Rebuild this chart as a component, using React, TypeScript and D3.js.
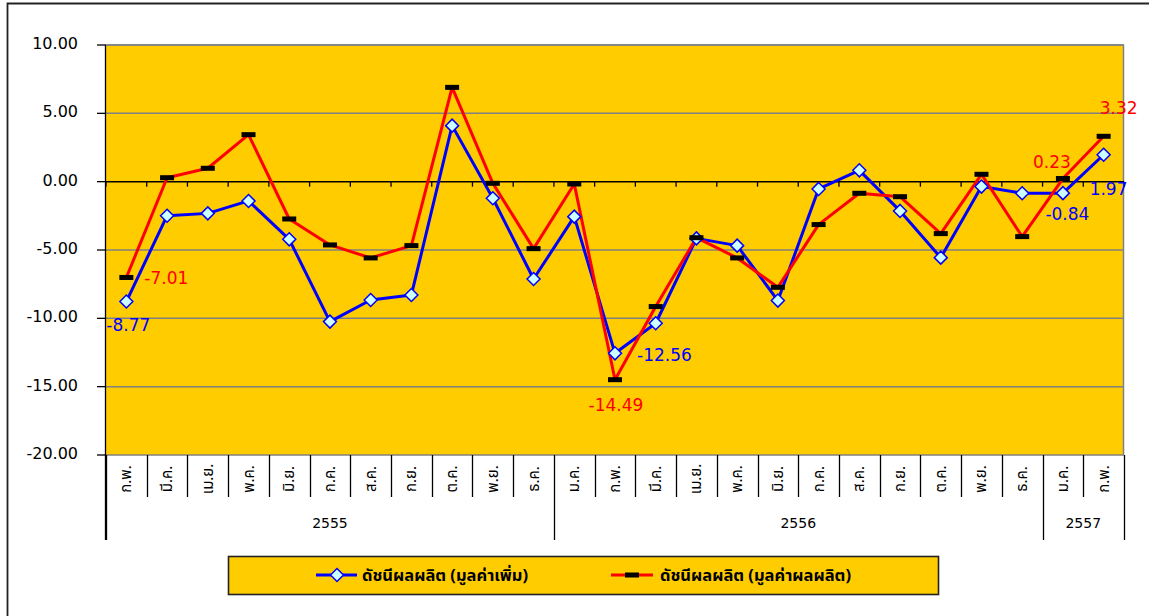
import React, { useEffect, useRef } from 'react';
import * as d3 from 'd3';

// เดือน (แกน X) และปีที่แต่ละเดือนอยู่
const months = [
  'ก.พ.', 'มี.ค.', 'เม.ย.', 'พ.ค.', 'มิ.ย.', 'ก.ค.', 'ส.ค.', 'ก.ย.', 'ต.ค.', 'พ.ย.', 'ธ.ค.',
  'ม.ค.', 'ก.พ.', 'มี.ค.', 'เม.ย.', 'พ.ค.', 'มิ.ย.', 'ก.ค.', 'ส.ค.', 'ก.ย.', 'ต.ค.', 'พ.ย.', 'ธ.ค.',
  'ม.ค.', 'ก.พ.',
];
const monthYears = [
  '2555', '2555', '2555', '2555', '2555', '2555', '2555', '2555', '2555', '2555', '2555',
  '2556', '2556', '2556', '2556', '2556', '2556', '2556', '2556', '2556', '2556', '2556', '2556',
  '2557', '2557',
];

// ดัชนีผลผลิต (มูลค่าเพิ่ม)
const valueAdded = [
  -8.77, -2.49, -2.32, -1.41, -4.22, -10.24, -8.66, -8.29, 4.1, -1.21, -7.12,
  -2.56, -12.56, -10.36, -4.15, -4.68, -8.7, -0.53, 0.83, -2.14, -5.56, -0.36, -0.85,
  -0.84, 1.97,
];
// ดัชนีผลผลิต (มูลค่าผลผลิต)
const production = [
  -7.01, 0.29, 0.98, 3.44, -2.73, -4.63, -5.58, -4.68, 6.9, -0.12, -4.9,
  -0.17, -14.49, -9.14, -4.1, -5.58, -7.73, -3.14, -0.85, -1.1, -3.8, 0.54, -4.02,
  0.23, 3.32,
];

const yTicks = [10, 5, 0, -5, -10, -15, -20];
const seriesNames = ['ดัชนีผลผลิต (มูลค่าเพิ่ม)', 'ดัชนีผลผลิต (มูลค่าผลผลิต)'];

// ป้ายค่าที่แสดงบนกราฟ: series, index, และตำแหน่งเยื้องจากจุด
const labelSpots = [
  { s: 0, i: 0, dx: 2, dy: 29, anchor: 'middle' },
  { s: 1, i: 0, dx: 18, dy: 6.5, anchor: 'start' },
  { s: 0, i: 12, dx: 22, dy: 7.5, anchor: 'start' },
  { s: 1, i: 12, dx: 1, dy: 31, anchor: 'middle' },
  { s: 1, i: 23, dx: -11, dy: -10.5, anchor: 'middle' },
  { s: 0, i: 23, dx: 4.5, dy: 27, anchor: 'middle' },
  { s: 0, i: 24, dx: -14, dy: 40, anchor: 'start' },
  { s: 1, i: 24, dx: 15, dy: -22, anchor: 'middle' },
];

const W = 1149;
const H = 616;
const BG = '#FFCC00';
const BLUE = '#0000FF';
const RED = '#FF0000';
const NUM_FONT = "'DejaVu Sans', Verdana, sans-serif";
const THAI_FONT = "Tahoma, 'Noto Sans Thai', 'Leelawadee UI', 'DejaVu Sans', sans-serif";

export default function App() {
  const node = useRef<SVGSVGElement | null>(null);

  useEffect(() => {
    const svg = d3.select(node.current);
    svg.selectAll('*').remove();

    const left = 106;
    const right = 1124;
    const top = 45;
    const bottom = 455;

    const x = d3.scaleBand<number>().domain(d3.range(months.length)).range([left, right]);
    const y = d3.scaleLinear().domain([-20, 10]).range([bottom, top]);
    const cx = (i: number) => (x(i) as number) + x.bandwidth() / 2;

    // outer frame
    svg.append('path')
      .attr('d', `M7.5,${H + 2}V3.5H${W + 2}`)
      .attr('fill', 'none')
      .attr('stroke', '#222')
      .attr('stroke-width', 1.8);

    // plot area
    svg.append('rect')
      .attr('x', left).attr('y', top)
      .attr('width', right - left).attr('height', bottom - top)
      .attr('fill', BG);

    // gridlines
    svg.append('g')
      .selectAll('line')
      .data(yTicks.filter(t => t !== 0))
      .enter()
      .append('line')
      .attr('x1', left).attr('x2', right)
      .attr('y1', d => y(d)).attr('y2', d => y(d))
      .attr('stroke', '#808080')
      .attr('stroke-width', 1.5);

    svg.append('line')
      .attr('x1', right - 0.5).attr('x2', right - 0.5)
      .attr('y1', top).attr('y2', bottom)
      .attr('stroke', '#808080')
      .attr('stroke-width', 1.5);

    // y axis
    const yAxis = svg.append('g');
    yAxis.append('line')
      .attr('x1', left - 0.5).attr('x2', left - 0.5)
      .attr('y1', top).attr('y2', 540)
      .attr('stroke', '#000').attr('stroke-width', 1.3);
    yAxis.selectAll('line.tick')
      .data(yTicks)
      .enter()
      .append('line')
      .attr('class', 'tick')
      .attr('x1', 97).attr('x2', left)
      .attr('y1', d => y(d)).attr('y2', d => y(d))
      .attr('stroke', '#000').attr('stroke-width', 1.3);
    yAxis.selectAll('text')
      .data(yTicks)
      .enter()
      .append('text')
      .attr('x', 78)
      .attr('y', d => y(d) + 4)
      .attr('text-anchor', 'end')
      .attr('font-family', NUM_FONT)
      .attr('font-size', 16)
      .attr('fill', '#000')
      .text(d => d.toFixed(2));

    // zero line with category ticks
    const boundaries = d3.range(months.length + 1).map(i => left + i * x.step());
    svg.append('line')
      .attr('x1', left).attr('x2', right)
      .attr('y1', y(0)).attr('y2', y(0))
      .attr('stroke', '#000').attr('stroke-width', 1.5);
    svg.append('g')
      .selectAll('line')
      .data(boundaries)
      .enter()
      .append('line')
      .attr('x1', d => d).attr('x2', d => d)
      .attr('y1', y(0)).attr('y2', y(0) + 5)
      .attr('stroke', '#000').attr('stroke-width', 1.3);

    // category table under the plot
    const groups: { year: string; start: number; end: number }[] = [];
    monthYears.forEach((yr, i) => {
      const g = groups[groups.length - 1];
      if (g && g.year === yr) g.end = i;
      else groups.push({ year: yr, start: i, end: i });
    });
    const groupEdges = new Set<number>();
    groups.forEach(g => {
      groupEdges.add(g.start);
      groupEdges.add(g.end + 1);
    });

    const table = svg.append('g');
    table.selectAll('line')
      .data(d3.range(months.length + 1))
      .enter()
      .append('line')
      .attr('x1', i => Math.round(boundaries[i]) + 0.5)
      .attr('x2', i => Math.round(boundaries[i]) + 0.5)
      .attr('y1', bottom)
      .attr('y2', i => (groupEdges.has(i) ? 540 : 497))
      .attr('stroke', '#000').attr('stroke-width', 1.3);

    table.selectAll('text.month')
      .data(months)
      .enter()
      .append('text')
      .attr('class', 'month')
      .attr('transform', (d, i) => `translate(${cx(i) + 5},479) rotate(-90)`)
      .attr('text-anchor', 'middle')
      .attr('font-family', THAI_FONT)
      .attr('font-size', 15)
      .attr('fill', '#000')
      .text(d => d);

    table.selectAll('text.year')
      .data(groups)
      .enter()
      .append('text')
      .attr('class', 'year')
      .attr('x', g => (boundaries[g.start] + boundaries[g.end + 1]) / 2)
      .attr('y', 528)
      .attr('text-anchor', 'middle')
      .attr('font-family', NUM_FONT)
      .attr('font-size', 14)
      .attr('fill', '#000')
      .text(g => g.year);

    // series lines
    const line = d3.line<number>().x((d, i) => cx(i)).y(d => y(d));
    svg.append('path')
      .attr('d', line(valueAdded))
      .attr('fill', 'none')
      .attr('stroke', BLUE)
      .attr('stroke-width', 3)
      .attr('stroke-linejoin', 'round');
    svg.append('path')
      .attr('d', line(production))
      .attr('fill', 'none')
      .attr('stroke', RED)
      .attr('stroke-width', 3)
      .attr('stroke-linejoin', 'round');

    // markers
    const diamond = (px: number, py: number) =>
      `M${px},${py - 6.5}L${px + 6.5},${py}L${px},${py + 6.5}L${px - 6.5},${py}Z`;
    svg.append('g')
      .selectAll('path')
      .data(valueAdded)
      .enter()
      .append('path')
      .attr('d', (d, i) => diamond(cx(i), y(d)))
      .attr('fill', '#CCFFFF')
      .attr('stroke', BLUE)
      .attr('stroke-width', 1.5);
    svg.append('g')
      .selectAll('rect')
      .data(production)
      .enter()
      .append('rect')
      .attr('x', (d, i) => cx(i) - 7)
      .attr('y', d => y(d) - 2.5)
      .attr('width', 14)
      .attr('height', 5)
      .attr('fill', '#000');

    // value labels
    const all = [valueAdded, production];
    svg.append('g')
      .selectAll('text')
      .data(labelSpots)
      .enter()
      .append('text')
      .attr('x', d => cx(d.i) + d.dx)
      .attr('y', d => y(all[d.s][d.i]) + d.dy)
      .attr('text-anchor', d => d.anchor)
      .attr('font-family', NUM_FONT)
      .attr('font-size', 17)
      .attr('fill', d => (d.s === 0 ? BLUE : RED))
      .text(d => all[d.s][d.i].toFixed(2));

    // top border of plot area drawn last
    svg.append('line')
      .attr('x1', left).attr('x2', right)
      .attr('y1', top).attr('y2', top)
      .attr('stroke', '#808080').attr('stroke-width', 1.5);

    // legend
    const legend = svg.append('g');
    legend.append('rect')
      .attr('x', 228.5).attr('y', 556.5)
      .attr('width', 710).attr('height', 38)
      .attr('fill', BG)
      .attr('stroke', '#222')
      .attr('stroke-width', 1.6);
    const ly = 575;
    legend.append('line')
      .attr('x1', 316).attr('x2', 357).attr('y1', ly).attr('y2', ly)
      .attr('stroke', BLUE).attr('stroke-width', 3);
    legend.append('path')
      .attr('d', diamond(337, ly))
      .attr('fill', '#CCFFFF').attr('stroke', BLUE).attr('stroke-width', 1.5);
    legend.append('line')
      .attr('x1', 611).attr('x2', 653).attr('y1', ly).attr('y2', ly)
      .attr('stroke', RED).attr('stroke-width', 3);
    legend.append('rect')
      .attr('x', 625).attr('y', ly - 2.5).attr('width', 14).attr('height', 5)
      .attr('fill', '#000');
    legend.selectAll('text')
      .data(seriesNames)
      .enter()
      .append('text')
      .attr('x', (d, i) => (i === 0 ? 362 : 660))
      .attr('y', ly + 6)
      .attr('font-family', THAI_FONT)
      .attr('font-size', 16.5)
      .attr('font-weight', 'bold')
      .attr('fill', '#000')
      .text(d => d);
  }, []);

  return (
    <svg
      ref={node}
      width={W}
      height={H}
      style={{ position: 'absolute', left: 0, top: 0, background: '#fff' }}
    />
  );
}
